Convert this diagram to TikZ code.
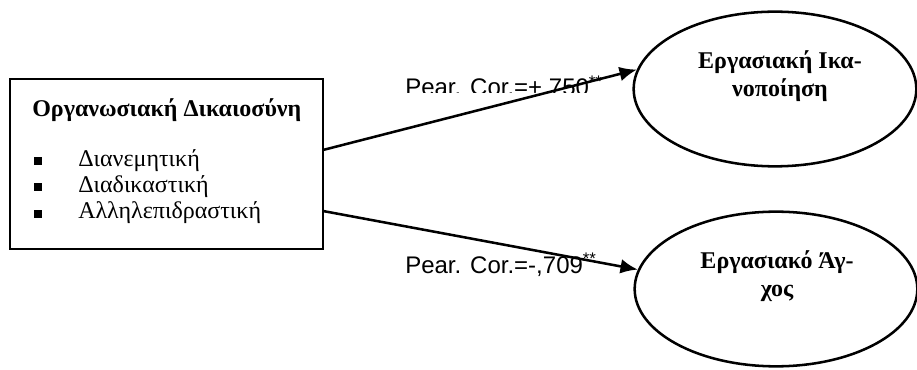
\documentclass[tikz,border=0pt]{standalone}
\usepackage{fontspec}
\setmainfont{Liberation Serif}
\newfontfamily\labelfont{Liberation Sans}
\usetikzlibrary{arrows.meta,shapes.geometric}

\tikzset{
  frame/.style={draw, line width=2.2pt, minimum width=234.75pt, minimum height=127.5pt, inner sep=0pt},
  outcome/.style={draw, ellipse, line width=1.9pt, minimum width=212pt, minimum height=116pt, inner sep=0pt},
  boxtext/.style={anchor=base west, inner sep=0pt, font=\fontsize{18}{21}\selectfont},
  bullet/.style={fill, minimum size=6pt, inner sep=0pt},
  ovaltext/.style={align=center, inner sep=0pt, font=\bfseries\fontsize{18}{20.5}\selectfont},
  corr/.style={anchor=base west, inner sep=0pt, font=\labelfont\fontsize{18}{21}\selectfont},
  link/.style={line width=1.9pt, -{Latex[length=13pt,width=11pt]}}
}

\begin{document}
\begin{tikzpicture}[x=0.75pt, y=-0.75pt]
  \useasboundingbox (0,0) rectangle (917,370);

  % predictor box
  \node[frame] (box) at (166.5,164) {};
  \node[boxtext, font=\bfseries\fontsize{18}{21}\selectfont] (title) at (32,117) {Οργανωσιακή Δικαιοσύνη};
  \node[bullet] (b1) at (37.5,161) {};
  \node[bullet] (b2) at (37.5,187) {};
  \node[bullet] (b3) at (37.5,214) {};
  \node[boxtext] (i1) at (78,167) {Διανεμητική};
  \node[boxtext] (i2) at (78,193) {Διαδικαστική};
  \node[boxtext] (i3) at (78,219) {Αλληλεπιδραστική};

  % outcome ellipses
  \node[outcome] (sat) at (775,89) {};
  \node[ovaltext] (sattext) at (780,76) {Εργασιακή Ικα-\\νοποίηση};
  \node[outcome] (str) at (776,289) {};
  \node[ovaltext] (strtext) at (777,276) {Εργασιακό Άγ-\\χος};

  % correlation labels (the upper one is cut off at its baseline)
  \begin{scope}
    \clip (390,60) rectangle (640,93);
    \node[corr] (c1) at (405,96) {Pear. Cor.=+,750\textsuperscript{**}};
  \end{scope}
  \node[corr] (c2) at (405,273) {Pear. Cor.=-,709\textsuperscript{**}};

  % connectors
  \coordinate (s1) at (323,150);
  \coordinate (s2) at (323,211);
  \draw[link] (s1) -- (sat.172);
  \draw[link] (s2) -- (str.172);
\end{tikzpicture}
\end{document}
